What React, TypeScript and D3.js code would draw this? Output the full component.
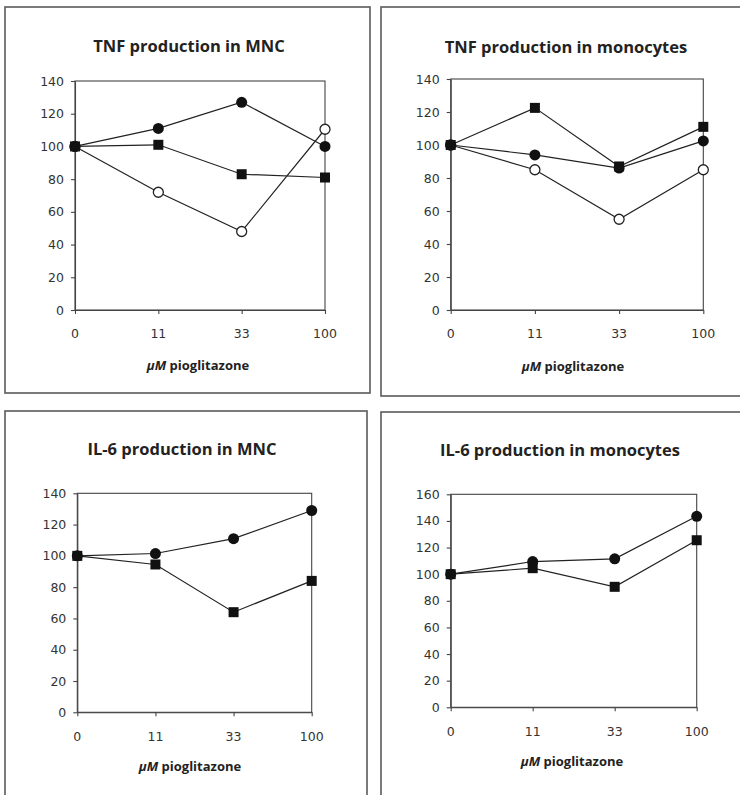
import React, { useEffect, useRef } from "react";
import * as d3 from "d3";

const doses = ["0", "11", "33", "100"];
const titles = [
  "TNF production in MNC",
  "TNF production in monocytes",
  "IL-6 production in MNC",
  "IL-6 production in monocytes",
];
const xAxisTitle = "pioglitazone";
const yMaxes = [140, 140, 140, 160];

// TNF in MNC
const tnfMncFilledCircle = [100, 111, 127, 100];
const tnfMncFilledSquare = [100, 101, 83, 81];
const tnfMncOpenCircle = [100, 72, 48, 110.5];
// TNF in monocytes
const tnfMonoFilledSquare = [100, 122.5, 87, 111];
const tnfMonoFilledCircle = [100, 94, 86, 102.5];
const tnfMonoOpenCircle = [100, 85, 55, 85];
// IL-6 in MNC
const il6MncFilledCircle = [100, 101.5, 111, 129];
const il6MncFilledSquare = [100, 94.5, 64, 84];
// IL-6 in monocytes
const il6MonoFilledCircle = [100, 109.5, 111.5, 143.5];
const il6MonoFilledSquare = [100, 104.5, 90.5, 125.5];

type Series = { values: number[]; marker: "circle" | "square" | "open" };

const panelSeries: Series[][] = [
  [
    { values: tnfMncFilledSquare, marker: "square" },
    { values: tnfMncOpenCircle, marker: "open" },
    { values: tnfMncFilledCircle, marker: "circle" },
  ],
  [
    { values: tnfMonoOpenCircle, marker: "open" },
    { values: tnfMonoFilledCircle, marker: "circle" },
    { values: tnfMonoFilledSquare, marker: "square" },
  ],
  [
    { values: il6MncFilledSquare, marker: "square" },
    { values: il6MncFilledCircle, marker: "circle" },
  ],
  [
    { values: il6MonoFilledSquare, marker: "square" },
    { values: il6MonoFilledCircle, marker: "circle" },
  ],
];

const layouts = [
  { box: [5, 7, 365, 386], plot: [75, 325, 81, 310], titleX: 189, titleY: 52, xLabY: 338, axTitleX: 198, axTitleY: 370 },
  { box: [381, 7, 380, 389], plot: [450.7, 703.3, 79, 310], titleX: 566, titleY: 53, xLabY: 338, axTitleX: 573, axTitleY: 371 },
  { box: [5, 411, 362, 420], plot: [77.3, 311.7, 493.3, 712.3], titleX: 182, titleY: 455, xLabY: 741, axTitleX: 190, axTitleY: 771 },
  { box: [381, 412, 400, 420], plot: [450.7, 696.7, 494.3, 707.3], titleX: 560, titleY: 456, xLabY: 736, axTitleX: 572, axTitleY: 766 },
];

export default function App() {
  const ref = useRef<SVGSVGElement>(null);
  useEffect(() => {
    const svg = d3.select(ref.current);
    svg.selectAll("*").remove();
    svg.append("rect").attr("width", 740).attr("height", 795).attr("fill", "#fff");

    layouts.forEach((L, i) => {
      const g = svg.append("g");
      const [bx, by, bw, bh] = L.box;
      g.append("rect")
        .attr("x", bx).attr("y", by).attr("width", bw).attr("height", bh)
        .attr("fill", "none").attr("stroke", "#5a5a5a").attr("stroke-width", 1.6);

      const [l, r, t, b] = L.plot;
      const x = d3.scalePoint<string>().domain(doses).range([l, r]);
      const y = d3.scaleLinear().domain([0, yMaxes[i]]).range([b, t]);

      // plot frame
      g.append("rect").attr("x", l).attr("y", t).attr("width", r - l).attr("height", b - t)
        .attr("fill", "none").attr("stroke", "#444").attr("stroke-width", 1.1);

      const yAxis = g.append("g").attr("transform", `translate(${l},0)`)
        .call(d3.axisLeft(y).tickValues(d3.range(0, yMaxes[i] + 1, 20)).tickSize(4).tickPadding(7).tickSizeOuter(0));
      const xAxis = g.append("g").attr("transform", `translate(0,${b})`)
        .call(d3.axisBottom(x).tickSize(4).tickSizeOuter(0).tickFormat(() => ""));
      [yAxis, xAxis].forEach((ax) => {
        ax.select(".domain").attr("stroke", "#444").attr("stroke-width", 1.1);
        ax.selectAll(".tick line").attr("stroke", "#444").attr("stroke-width", 1.1);
        ax.selectAll("text").attr("font-family", "DejaVu Sans").attr("font-size", 12.5).attr("fill", "#333");
      });
      g.selectAll(".xlab").data(doses).enter().append("text")
        .attr("x", (d) => x(d)!).attr("y", L.xLabY)
        .attr("text-anchor", "middle").attr("font-family", "DejaVu Sans").attr("font-size", 12.5).attr("fill", "#333")
        .text((d) => d);

      g.append("text").attr("x", L.titleX).attr("y", L.titleY).attr("text-anchor", "middle")
        .attr("font-family", "Open Sans").attr("font-weight", "bold").attr("font-size", 16.5).attr("fill", "#222")
        .text(titles[i]);

      const at = g.append("text").attr("x", L.axTitleX).attr("y", L.axTitleY).attr("text-anchor", "middle")
        .attr("font-family", "Open Sans").attr("font-weight", "bold").attr("font-size", 13).attr("fill", "#222");
      at.append("tspan").attr("font-style", "italic").text("\u03bcM");
      at.append("tspan").text(" " + xAxisTitle);

      const line = d3.line<number>().x((_, j) => x(doses[j])!).y((v) => y(v));
      panelSeries[i].forEach((s) => {
        g.append("path").attr("d", line(s.values)!).attr("fill", "none").attr("stroke", "#222").attr("stroke-width", 1.2);
      });
      panelSeries[i].forEach((s) => {
        s.values.forEach((v, j) => {
          const cx = x(doses[j])!;
          const cy = y(v);
          if (s.marker === "square") {
            g.append("rect").attr("x", cx - 5).attr("y", cy - 5).attr("width", 10).attr("height", 10).attr("fill", "#111");
          } else if (s.marker === "circle") {
            g.append("circle").attr("cx", cx).attr("cy", cy).attr("r", 5.5).attr("fill", "#111");
          } else {
            g.append("circle").attr("cx", cx).attr("cy", cy).attr("r", 5).attr("fill", "#fff").attr("stroke", "#222").attr("stroke-width", 1.3);
          }
        });
      });
    });
  }, []);
  return (
    <svg ref={ref} width={740} height={795} style={{ position: "absolute", left: 0, top: 0 }} />
  );
}
